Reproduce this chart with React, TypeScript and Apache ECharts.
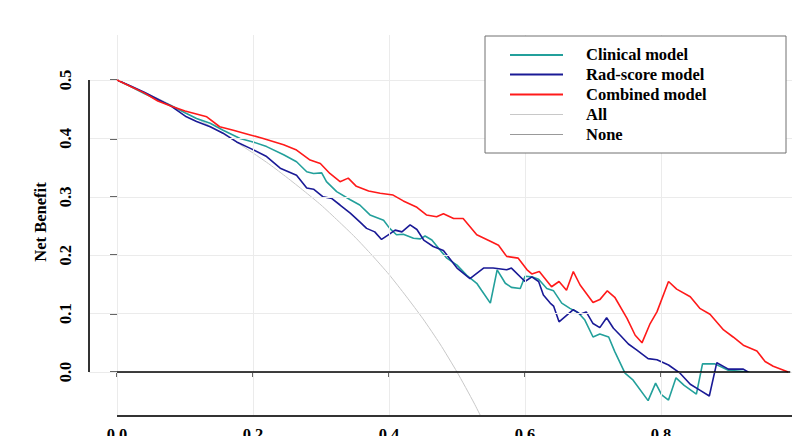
import React, { useEffect, useRef } from "react";
import * as echarts from "echarts";

// Axis ticks
const xTicks = [0, 0.2, 0.4, 0.6, 0.8];
const yTicks = [0, 0.1, 0.2, 0.3, 0.4, 0.5];
const xRange = [-0.0412, 0.9926];
const yRange = [-0.0753, 0.5771];

// Series names
const names = ["Clinical model", "Rad-score model", "Combined model", "All", "None"];
const colors = ["#23A09B", "#1A1A96", "#FF1A1A", "#C8C8C8", "#999999"];

// Treat-all curve
const allCurve: [number, number][] = [
  [0, 0.5], [0.025, 0.487], [0.05, 0.474], [0.075, 0.46], [0.1, 0.444], [0.125, 0.429],
  [0.15, 0.412], [0.175, 0.394], [0.2, 0.375], [0.225, 0.355], [0.25, 0.333], [0.275, 0.31],
  [0.3, 0.286], [0.325, 0.259], [0.35, 0.231], [0.375, 0.2], [0.4, 0.167], [0.425, 0.13],
  [0.45, 0.091], [0.475, 0.048], [0.5, 0], [0.525, -0.053], [0.55, -0.111],
];

// Treat-none
const noneCurve: [number, number][] = [[0, 0], [0.99, 0]];

const clinical: [number, number][] = [
  [0, 0.5], [0.02, 0.489], [0.04, 0.477], [0.06, 0.466], [0.08, 0.456], [0.1, 0.444],
  [0.117, 0.434], [0.137, 0.426], [0.156, 0.414], [0.181, 0.4], [0.2, 0.394], [0.22, 0.386],
  [0.245, 0.372], [0.264, 0.36], [0.279, 0.343], [0.289, 0.34], [0.301, 0.341], [0.308, 0.326],
  [0.323, 0.309], [0.343, 0.295], [0.357, 0.286], [0.372, 0.269], [0.392, 0.26], [0.401, 0.246],
  [0.411, 0.235], [0.421, 0.236], [0.436, 0.229], [0.446, 0.228], [0.453, 0.233], [0.463, 0.226],
  [0.475, 0.209], [0.485, 0.195], [0.5, 0.183], [0.514, 0.166], [0.529, 0.152], [0.536, 0.14],
  [0.549, 0.118], [0.559, 0.175], [0.571, 0.152], [0.58, 0.145], [0.593, 0.143], [0.6, 0.164],
  [0.61, 0.163], [0.62, 0.159], [0.632, 0.143], [0.642, 0.139], [0.654, 0.118], [0.666, 0.109],
  [0.678, 0.102], [0.688, 0.089], [0.7, 0.06], [0.71, 0.065], [0.723, 0.06], [0.732, 0.035],
  [0.747, -0.002], [0.759, -0.014], [0.781, -0.049], [0.792, -0.019], [0.801, -0.039],
  [0.811, -0.048], [0.822, -0.01], [0.834, -0.023], [0.852, -0.038], [0.861, 0.014],
  [0.879, 0.014], [0.899, 0.003], [0.93, 0],
];

const radScore: [number, number][] = [
  [0, 0.5], [0.02, 0.49], [0.04, 0.479], [0.06, 0.467], [0.08, 0.455], [0.102, 0.437],
  [0.117, 0.429], [0.137, 0.42], [0.156, 0.409], [0.176, 0.394], [0.196, 0.383], [0.22, 0.369],
  [0.24, 0.349], [0.264, 0.337], [0.279, 0.315], [0.289, 0.313], [0.303, 0.3], [0.316, 0.297],
  [0.328, 0.286], [0.343, 0.272], [0.357, 0.257], [0.367, 0.246], [0.379, 0.24], [0.389, 0.227],
  [0.399, 0.235], [0.409, 0.243], [0.419, 0.24], [0.431, 0.252], [0.441, 0.244], [0.451, 0.226],
  [0.465, 0.215], [0.48, 0.208], [0.5, 0.178], [0.519, 0.16], [0.539, 0.178], [0.553, 0.178],
  [0.573, 0.175], [0.58, 0.178], [0.6, 0.155], [0.61, 0.163], [0.62, 0.155], [0.627, 0.132],
  [0.637, 0.118], [0.642, 0.113], [0.65, 0.086], [0.671, 0.107], [0.681, 0.099], [0.69, 0.103],
  [0.7, 0.083], [0.71, 0.076], [0.72, 0.093], [0.73, 0.075], [0.74, 0.063], [0.752, 0.048],
  [0.764, 0.038], [0.781, 0.023], [0.794, 0.021], [0.811, 0.012], [0.828, -0.002],
  [0.843, -0.021], [0.857, -0.031], [0.871, -0.041], [0.882, 0.016], [0.899, 0.005],
  [0.921, 0.005], [0.928, 0],
];

const combined: [number, number][] = [
  [0, 0.5], [0.02, 0.489], [0.04, 0.478], [0.06, 0.464], [0.08, 0.455], [0.1, 0.447],
  [0.132, 0.437], [0.151, 0.42], [0.171, 0.414], [0.196, 0.406], [0.215, 0.4], [0.245, 0.389],
  [0.264, 0.38], [0.284, 0.363], [0.299, 0.357], [0.313, 0.34], [0.328, 0.326], [0.34, 0.332],
  [0.352, 0.318], [0.37, 0.31], [0.387, 0.306], [0.406, 0.303], [0.421, 0.293], [0.441, 0.282],
  [0.455, 0.269], [0.47, 0.266], [0.48, 0.271], [0.495, 0.263], [0.509, 0.263], [0.529, 0.235],
  [0.549, 0.224], [0.561, 0.217], [0.573, 0.198], [0.59, 0.195], [0.603, 0.175], [0.61, 0.168],
  [0.621, 0.172], [0.639, 0.146], [0.65, 0.155], [0.661, 0.14], [0.671, 0.172], [0.681, 0.149],
  [0.7, 0.119], [0.71, 0.124], [0.721, 0.139], [0.732, 0.128], [0.75, 0.092], [0.762, 0.063],
  [0.772, 0.05], [0.784, 0.083], [0.794, 0.103], [0.811, 0.155], [0.823, 0.142], [0.843, 0.129],
  [0.857, 0.109], [0.872, 0.099], [0.892, 0.072], [0.906, 0.06], [0.921, 0.046], [0.941, 0.036],
  [0.953, 0.018], [0.965, 0.01], [0.987, 0],
];

const FONT = "Liberation Serif";
const FS = 16.5;

export default function App() {
  const ref = useRef<HTMLDivElement>(null);
  useEffect(() => {
    document.body.style.margin = "0";
    const chart = echarts.init(ref.current!, null, { renderer: "svg" });
    const gridColor = "#EBEBEB";
    const axisColor = "#333333";
    chart.setOption({
      animation: false,
      grid: { left: 89, right: 0, top: 35, bottom: 20, outerBoundsMode: "none", containLabel: false },
      xAxis: {
        type: "value",
        min: xRange[0],
        max: xRange[1],
        axisLine: { show: false },
        splitLine: { show: false },
        axisTick: { show: true, customValues: xTicks, length: 5, lineStyle: { color: axisColor, width: 1.5 } },
        axisLabel: {
          customValues: xTicks,
          formatter: (v: number) => v.toFixed(1),
          margin: 10,
          fontFamily: FONT,
          fontWeight: "bold",
          fontSize: FS,
          color: "#000",
        },
      },
      yAxis: {
        type: "value",
        min: yRange[0],
        max: yRange[1],
        axisLine: { show: false },
        splitLine: { show: false },
        axisTick: { show: true, customValues: yTicks, length: 7, lineStyle: { color: axisColor, width: 1.5 } },
        axisLabel: {
          customValues: yTicks,
          formatter: (v: number) => v.toFixed(1),
          rotate: 90,
          margin: 15,
          fontFamily: FONT,
          fontWeight: "bold",
          fontSize: FS,
          color: "#000",
        },
      },
      series: [
        {
          name: "grid",
          type: "line",
          data: [],
          z: 0,
          silent: true,
          markLine: {
            silent: true,
            symbol: "none",
            label: { show: false },
            lineStyle: { color: gridColor, width: 1, type: "solid" },
            data: [
              ...yTicks.map((v) => ({ yAxis: v })),
              ...xTicks.map((v) => ({ xAxis: v })),
            ],
          },
        },
        {
          name: names[3], type: "line", data: allCurve, showSymbol: false, smooth: 0.2, z: 2,
          lineStyle: { color: colors[3], width: 1 },
        },
        {
          name: names[0], type: "line", data: clinical, showSymbol: false, z: 3,
          lineStyle: { color: colors[0], width: 1.6 },
        },
        {
          name: names[1], type: "line", data: radScore, showSymbol: false, z: 4,
          lineStyle: { color: colors[1], width: 1.6 },
        },
        {
          name: names[2], type: "line", data: combined, showSymbol: false, z: 5,
          lineStyle: { color: colors[2], width: 1.6 },
        },
        {
          name: names[4], type: "line", data: noneCurve, showSymbol: false, z: 6,
          lineStyle: { color: "#000000", width: 1.6 },
        },
      ],
    });

    const p = (x: number, y: number) => chart.convertToPixel({ gridIndex: 0 }, [x, y]) as number[];
    const yAxTop = p(xRange[0], yTicks[yTicks.length - 1]);
    const yAxBot = p(xRange[0], yTicks[0]);
    const xAxL = p(xTicks[0], yRange[0]);
    const xAxR = p(1.0, yRange[0]);

    const legX = 485, legY = 36, legW = 301, legH = 117;
    const rows = [55, 74.5, 94.5, 114.5, 134.5];
    const legendEls: any[] = [
      {
        type: "rect",
        shape: { x: legX, y: legY, width: legW, height: legH },
        style: { fill: "#fff", stroke: "#707070", lineWidth: 1 },
        z: 100,
      },
    ];
    names.forEach((n, i) => {
      legendEls.push({
        type: "line",
        shape: { x1: 510, y1: rows[i], x2: 563, y2: rows[i] },
        style: { stroke: colors[i], lineWidth: i >= 3 ? 1.2 : 2 },
        z: 101,
      });
      legendEls.push({
        type: "text",
        x: 586,
        y: rows[i] - 0.5,
        style: {
          text: n,
          fontFamily: FONT,
          fontWeight: "bold",
          fontSize: FS,
          fill: "#000",
          align: "left",
          verticalAlign: "middle",
        },
        z: 101,
      });
    });

    chart.setOption({
      graphic: [
        {
          type: "line",
          shape: { x1: yAxBot[0], y1: yAxBot[1], x2: yAxTop[0], y2: yAxTop[1] },
          style: { stroke: axisColor, lineWidth: 2 },
          z: 50,
        },
        {
          type: "line",
          shape: { x1: xAxL[0], y1: xAxL[1], x2: xAxR[0], y2: xAxR[1] },
          style: { stroke: axisColor, lineWidth: 2 },
          z: 50,
        },
        {
          type: "text",
          x: 40,
          y: 222,
          rotation: Math.PI / 2,
          style: {
            text: "Net Benefit",
            fontFamily: FONT,
            fontWeight: "bold",
            fontSize: FS,
            fill: "#000",
            align: "center",
            verticalAlign: "middle",
          },
        },
        ...legendEls,
      ],
    });

    return () => chart.dispose();
  }, []);
  return <div ref={ref} style={{ width: 792, height: 436 }} />;
}
